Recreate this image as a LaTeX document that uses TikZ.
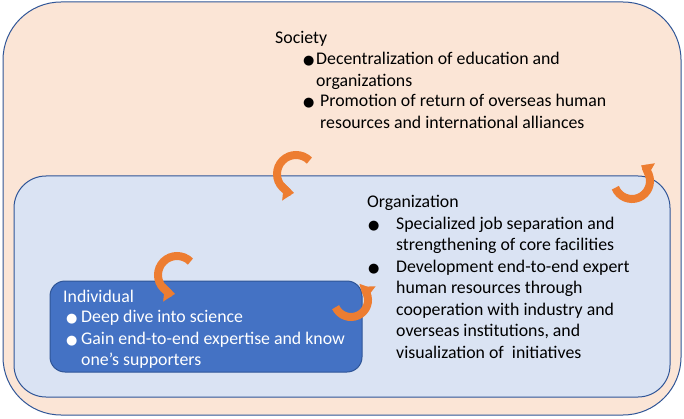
\documentclass[tikz,border=0pt]{standalone}
\usepackage{fontspec}
\setmainfont{Carlito}
\newfontfamily\symfont{DejaVu Sans}
\usetikzlibrary{arrows.meta}
\definecolor{peach}{HTML}{FBE5D6}
\definecolor{paleblue}{HTML}{DAE3F3}
\definecolor{midblue}{HTML}{4472C4}
\definecolor{edgeblue}{HTML}{2F5597}
\definecolor{loopor}{HTML}{ED7D31}
\newcommand{\blt}{{\symfont\fontsize{13}{13}\selectfont ●}}
\newcommand{\lines}[1]{\begin{tabular}[t]{@{}l@{}}#1\end{tabular}}
\begin{document}
\begin{tikzpicture}[x=1pt, y=1pt]
  \tikzstyle{box}=[draw=edgeblue, line width=1pt, inner sep=0pt]
  \tikzstyle{txt}=[inner sep=0pt, anchor=base west, font=\fontsize{17.8}{21.5}\selectfont]
  \tikzstyle{loop}=[draw=loopor, line width=8pt, -{Triangle[width=17pt,length=11pt]}]
  \useasboundingbox (0,0) rectangle (684,418);
  % Nested boxes
  \node[box, fill=peach, minimum width=678pt, minimum height=413pt, rounded corners=58pt] (society) at (342,209.5) {};
  \node[box, fill=paleblue, minimum width=656pt, minimum height=221pt, rounded corners=32pt] (organization) at (342,131.5) {};
  \node[box, fill=midblue, minimum width=312pt, minimum height=91pt, rounded corners=15pt] (individual) at (206,91.5) {};
  % Society text
  \node[txt] (soctitle) at (275,374) {Society};
  \node[txt] (socb1) at (303,353) {\blt};
  \node[txt] (soci1) at (316,353) {\lines{Decentralization of education and\\ organizations}};
  \node[txt] (socb2) at (303,311) {\blt};
  \node[txt] (soci2) at (320,311) {\lines{Promotion of return of overseas human\\resources and international alliances}};
  % Organization text
  \node[txt] (orgtitle) at (367,211) {Organization};
  \node[txt] (orgb1) at (368,189) {\blt};
  \node[txt] (orgi1) at (396,189) {\lines{Specialized job separation and\\strengthening of core facilities}};
  \node[txt] (orgb2) at (368,146) {\blt};
  \node[txt] (orgi2) at (396,146) {\lines{Development end-to-end expert\\human resources through\\cooperation with industry and\\overseas institutions, and\\visualization of \ initiatives}};
  % Individual text
  \node[txt, text=white] (indtitle) at (63,116) {Individual};
  \node[txt, text=white] (indb1) at (66,96) {\blt};
  \node[txt, text=white] (indi1) at (81,96) {Deep dive into science};
  \node[txt, text=white] (indb2) at (66,74) {\blt};
  \node[txt, text=white] (indi2) at (81,74) {\lines{Gain end-to-end expertise and know\\one’s supporters}};
  % Cycle arrows
  \foreach \cx/\cy/\r/\s/\e in {296/244/19/45/264, 177/143/19/45/264, 632/237/18/202/420, 351/118/17/205/412}
    \draw[loop] (\cx,\cy) ++(\s:\r) arc[start angle=\s, end angle=\e, radius=\r];
\end{tikzpicture}
\end{document}
